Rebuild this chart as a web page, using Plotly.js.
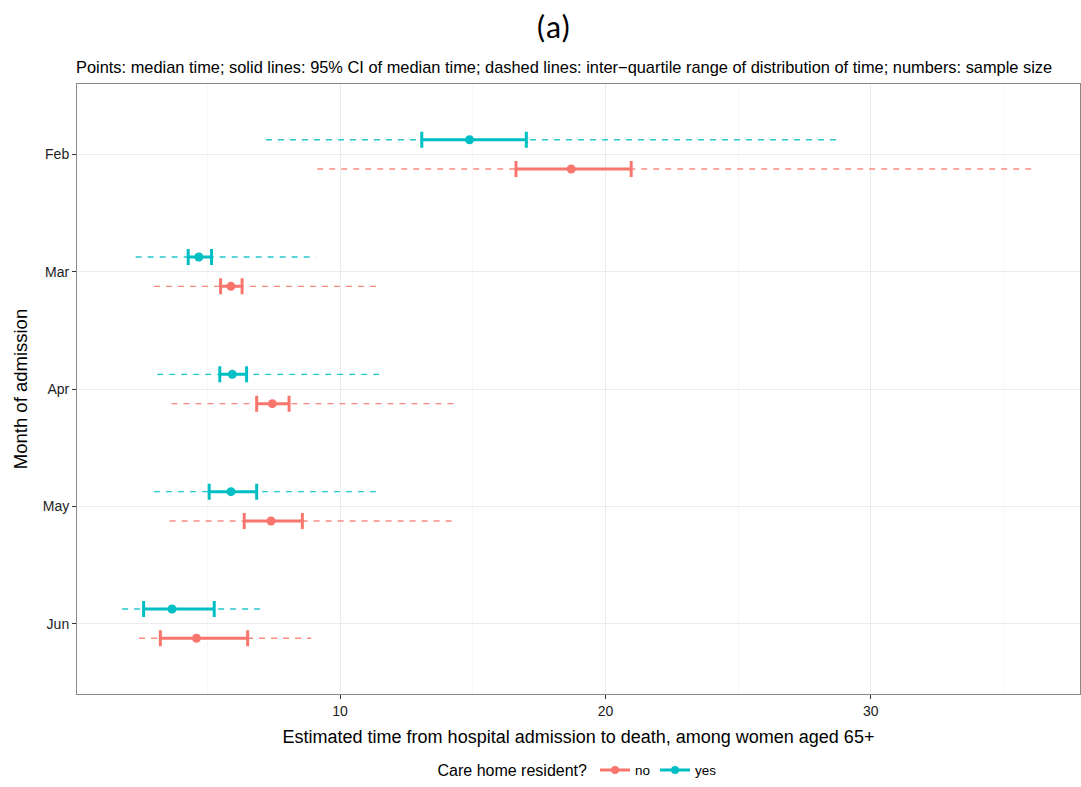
<!DOCTYPE html>
<html>
<head>
<meta charset="utf-8">
<script src="https://cdn.plot.ly/plotly-3.0.1.min.js"></script>
<style>
  html, body { margin: 0; padding: 0; background: #fff; }
  #chart { width: 1081px; height: 787px; }
</style>
</head>
<body>
<div id="chart"></div>
<script>
// ---- data ----
const months = ["Feb", "Mar", "Apr", "May", "Jun"];

// Care home resident: yes
const yesMedian = [14.88, 4.68, 5.94, 5.89, 3.67];
const yesCILow  = [13.08, 4.28, 5.47, 5.07, 2.60];
const yesCIHigh = [17.02, 5.16, 6.48, 6.86, 5.26];
const yesQ1     = [7.21, 2.30, 3.11, 2.99, 1.79];
const yesQ3     = [28.83, 9.09, 11.51, 11.38, 7.11];

// Care home resident: no
const noMedian = [18.71, 5.89, 7.45, 7.40, 4.59];
const noCILow  = [16.63, 5.50, 6.86, 6.39, 3.23];
const noCIHigh = [20.97, 6.31, 8.08, 8.58, 6.52];
const noQ1     = [9.14, 2.99, 3.65, 3.58, 2.43];
const noQ3     = [36.25, 11.38, 14.47, 14.34, 8.91];

const groups = ["no", "yes"];
const colors = { no: "#F8766D", yes: "#00BFC4" };
const dodge = { no: 0.125, yes: -0.125 };

const series = {
  no:  { med: noMedian,  lo: noCILow,  hi: noCIHigh,  q1: noQ1,  q3: noQ3 },
  yes: { med: yesMedian, lo: yesCILow, hi: yesCIHigh, q1: yesQ1, q3: yesQ3 }
};

const traces = [];
const pos = months.map((m, i) => i + 1);

// dashed IQR lines
groups.forEach(g => {
  const s = series[g];
  const xs = [], ys = [];
  pos.forEach((p, i) => {
    xs.push(s.q1[i], s.q3[i], null);
    ys.push(p + dodge[g], p + dodge[g], null);
  });
  traces.push({
    type: "scatter", mode: "lines", x: xs, y: ys,
    line: { color: colors[g], width: 1.4, dash: "6px,6px" },
    opacity: 0.85, showlegend: false, hoverinfo: "skip"
  });
});

// CI + median
groups.forEach(g => {
  const s = series[g];
  traces.push({
    type: "scatter", mode: "markers",
    x: s.med, y: pos.map(p => p + dodge[g]),
    marker: { color: colors[g], size: 9 },
    error_x: {
      type: "data", symmetric: false,
      array: s.hi.map((h, i) => h - s.med[i]),
      arrayminus: s.lo.map((l, i) => s.med[i] - l),
      color: colors[g], thickness: 3, width: 8
    },
    showlegend: false
  });
});

// legend entries
groups.forEach(g => {
  traces.push({
    type: "scatter", mode: "lines+markers", x: [null], y: [null],
    name: g, line: { color: colors[g], width: 3 },
    marker: { color: colors[g], size: 8 }, showlegend: true
  });
});

const layout = {
  width: 1081, height: 787,
  paper_bgcolor: "#fff", plot_bgcolor: "#fff",
  font: { family: "Liberation Sans, Arial, sans-serif", color: "#000" },
  margin: { l: 77, r: 1, t: 84, b: 90 },
  showlegend: true,
  legend: {
    orientation: "h", x: 0.5, xanchor: "center", y: -0.125, yanchor: "middle",
    title: { text: "Care home resident?", side: "left", font: { size: 16, color: "#000" } },
    font: { size: 13.5, color: "#000" },
    itemwidth: 30, traceorder: "normal"
  },
  xaxis: {
    range: [0.09, 37.88], tickmode: "array", tickvals: [10, 20, 30],
    ticks: "outside", ticklen: 4, tickcolor: "#333", tickwidth: 1,
    tickfont: { size: 14, color: "#222" },
    showgrid: true, gridcolor: "#EBEBEB", gridwidth: 1,
    minor: { tickmode: "array", tickvals: [5, 15, 25, 35], showgrid: true, gridcolor: "#F2F2F2", gridwidth: 0.6, ticks: "" },
    zeroline: false, showline: true, mirror: true, linecolor: "#888", linewidth: 1,
    title: { text: "Estimated time from hospital admission to death, among women aged 65+", font: { size: 18, color: "#000" }, standoff: 12 }
  },
  yaxis: {
    range: [5.6, 0.4], tickmode: "array", tickvals: pos, ticktext: months,
    ticks: "outside", ticklen: 4, tickcolor: "#333", tickwidth: 1,
    tickfont: { size: 14, color: "#222" },
    showgrid: true, gridcolor: "#EBEBEB", gridwidth: 1,
    zeroline: false, showline: true, mirror: true, linecolor: "#888", linewidth: 1,
    title: { text: "Month of admission", font: { size: 18.5, color: "#000" }, standoff: 10 }
  },
  annotations: [
    { text: "(a)", xref: "paper", yref: "paper", x: 0.475, y: 1, yshift: 57, xanchor: "center", yanchor: "middle",
      showarrow: false, font: { family: "Carlito, Open Sans, sans-serif", size: 32, color: "#000" } },
    { text: "Points: median time; solid lines: 95% CI of median time; dashed lines: inter\u2212quartile range of distribution of time; numbers: sample size",
      xref: "paper", yref: "paper", x: 0, xshift: -3, y: 1, yshift: 17, xanchor: "left", yanchor: "middle",
      showarrow: false, font: { size: 16.4, color: "#000" } }
  ]
};

Plotly.newPlot("chart", traces, layout, { displayModeBar: false, staticPlot: true });
</script>
</body>
</html>
